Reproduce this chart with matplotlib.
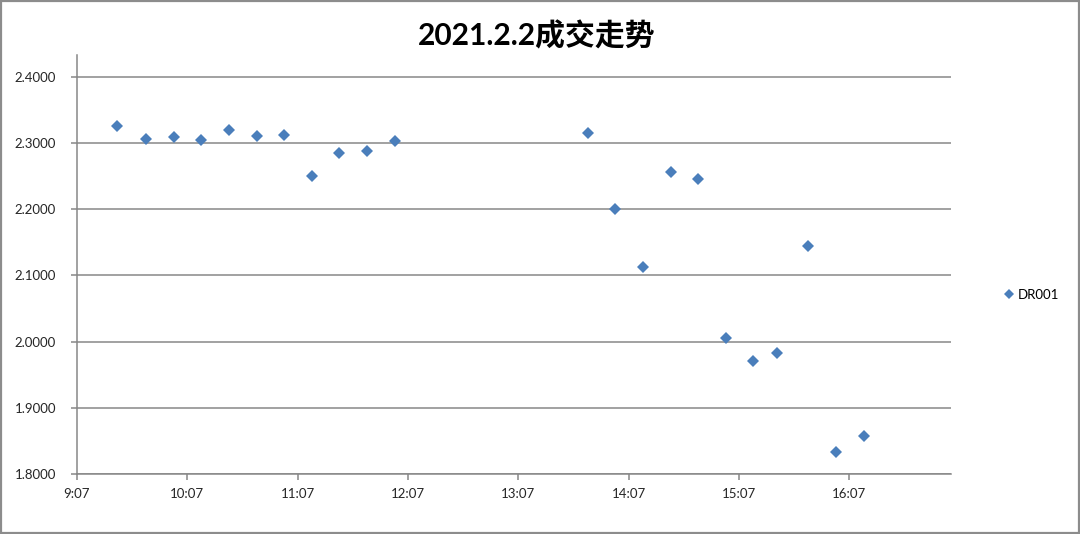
"""DR001 intraday trades on 2021-02-02, scatter of price against time."""

from datetime import datetime, timedelta

import matplotlib

matplotlib.use("Agg")
import matplotlib.dates as mdates
import matplotlib.pyplot as plt
from matplotlib.patches import Rectangle
from matplotlib.ticker import FuncFormatter

TITLE = "2021.2.2成交走势"
SERIES_NAME = "DR001"

trade_times = [
    "9:29", "9:45", "10:00", "10:15", "10:30", "10:45", "11:00", "11:15",
    "11:30", "11:45", "12:00", "13:45", "14:00", "14:15", "14:30", "14:45",
    "15:00", "15:15", "15:28", "15:45", "16:00", "16:15",
]
trade_rates = [
    2.3264, 2.3061, 2.3096, 2.3046, 2.3203, 2.3112, 2.3122, 2.2503,
    2.2848, 2.2883, 2.3036, 2.3147, 2.2000, 2.1125, 2.2562, 2.2456,
    2.0050, 1.9700, 1.9834, 2.1447, 1.8326, 1.8568,
]

# Excel-style axis bounds (fractions of a day) and y range
x_min_day = 0.38
x_max_day = 0.71
y_ticks = [1.8, 1.9, 2.0, 2.1, 2.2, 2.3, 2.4]
y_top = 2.433

BLUE = "#4A7EBB"
GRID = "#878787"
TEXT = "#262626"

day = datetime(2021, 2, 2)


def to_time(label: str) -> datetime:
    hour, minute = label.split(":")
    return day + timedelta(hours=int(hour), minutes=int(minute))


xs = [to_time(t) for t in trade_times]
x_start = day + timedelta(days=x_min_day)
x_end = day + timedelta(days=x_max_day)
x_ticks = [x_start + timedelta(hours=k) for k in range(8)]

plt.rcParams["font.family"] = ["Lato", "Noto Sans CJK SC", "DejaVu Sans"]

fig = plt.figure(figsize=(10.8, 5.34), dpi=100)
ax = fig.add_axes([0.0711, 0.1124, 0.8093, 0.7846])

ax.plot(xs, trade_rates, linestyle="none", marker="D", markersize=6.2,
        color=BLUE, markeredgewidth=0, label=SERIES_NAME, zorder=3)

ax.set_xlim(x_start, x_end)
ax.set_ylim(y_ticks[0], y_top)
ax.set_xticks(x_ticks)
ax.xaxis.set_major_formatter(
    FuncFormatter(lambda v, pos: f"{mdates.num2date(v).hour}:{mdates.num2date(v).minute:02d}"))
ax.set_yticks(y_ticks)
ax.yaxis.set_major_formatter(FuncFormatter(lambda v, pos: f"{v:.4f}"))

ax.grid(axis="y", color=GRID, linewidth=1.1)
ax.set_axisbelow(True)
for side in ("top", "right"):
    ax.spines[side].set_visible(False)
for side in ("left", "bottom"):
    ax.spines[side].set_color(GRID)
    ax.spines[side].set_linewidth(1.1)
ax.tick_params(axis="both", colors=GRID, labelcolor=TEXT, labelsize=9.5,
               length=4, width=1.1)
ax.tick_params(axis="x", pad=6)
ax.tick_params(axis="y", pad=11)

fig.text(0.497, 0.933, TITLE, ha="center", va="center", fontsize=21.5,
         fontweight="bold", color="black")

fig.legend(loc="center left", bbox_to_anchor=(0.918, 0.448), frameon=False,
           handlelength=0.8, handletextpad=0.3, markerscale=0.8,
           prop={"size": 9.5})

fig.patches.append(Rectangle((0.001, 0.002), 0.998, 0.996, transform=fig.transFigure,
                             fill=False, edgecolor="#8c8c8c", linewidth=1.6))

fig.savefig("out.png", dpi=100)
plt.close(fig)
